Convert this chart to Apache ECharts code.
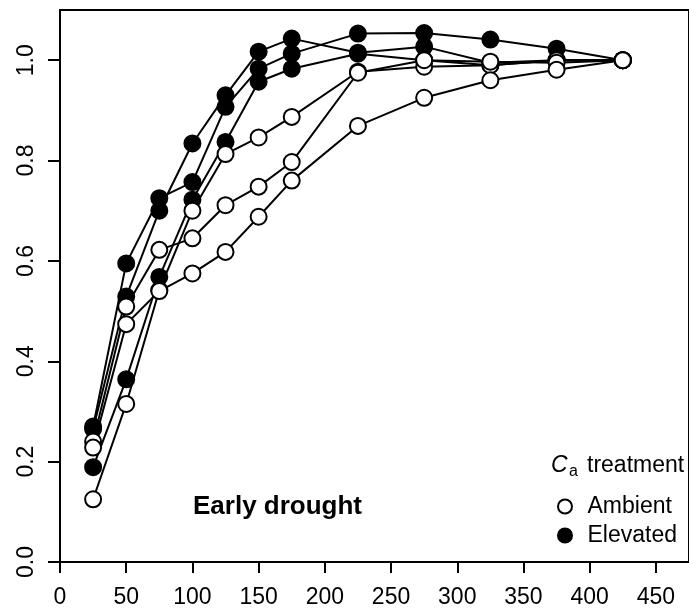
<!DOCTYPE html>
<html>
<head>
<meta charset="utf-8">
<script src="https://cdn.jsdelivr.net/npm/echarts@6/dist/echarts.min.js"></script>
<style>
  html, body { margin: 0; padding: 0; background: #fff; }
  #chart { width: 689px; height: 612px; }
</style>
</head>
<body>
<div id="chart"></div>
<script>
// sampling times
const xDays = [25, 50, 75, 100, 125, 150, 175, 225, 275, 325, 375, 425];

// ambient Ca (open circles)
const ambient1 = [0.125, 0.315, 0.542, 0.700, 0.813, 0.846, 0.887, 0.977, 0.987, 0.990, 1.000, 1.000];
const ambient2 = [0.240, 0.509, 0.622, 0.645, 0.711, 0.748, 0.797, 0.975, 1.000, 0.997, 0.995, 1.000];
const ambient3 = [0.228, 0.474, 0.540, 0.575, 0.618, 0.688, 0.760, 0.869, 0.925, 0.960, 0.981, 1.000];

// elevated Ca (filled circles)
const elevated1 = [0.270, 0.595, 0.725, 0.757, 0.907, 0.983, 1.013, 1.053, 1.054, 1.041, 1.023, 1.000];
const elevated2 = [0.265, 0.529, 0.700, 0.834, 0.930, 1.017, 1.043, 1.015, 1.027, 0.995, 1.000, 1.000];
const elevated3 = [0.189, 0.364, 0.568, 0.722, 0.837, 0.957, 0.983, 1.013, 1.000, 0.990, 1.000, 1.000];

const xTicks = [0, 50, 100, 150, 200, 250, 300, 350, 400, 450];
const yTicks = [0, 0.2, 0.4, 0.6, 0.8, 1.0];

const FONT = 'Liberation Sans, Arial, Helvetica, sans-serif';

function pairs(vals) {
  return xDays.map((x, i) => [x, vals[i]]);
}

function mkSeries(name, vals, filled) {
  return {
    name: name,
    type: 'line',
    data: pairs(vals),
    symbol: 'circle',
    symbolSize: 16,
    lineStyle: { color: '#000', width: 2 },
    itemStyle: {
      color: filled ? '#000' : '#fff',
      borderColor: '#000',
      borderWidth: 2
    },
    emphasis: { disabled: true },
    animation: false
  };
}

var myChart = echarts.init(document.getElementById('chart'));
var option = {
  backgroundColor: '#fff',
  animation: false,
  grid: {
    left: 60,
    top: 10,
    width: 633.33,
    height: 552,
    show: true,
    borderColor: '#000',
    borderWidth: 2,
    backgroundColor: 'transparent'
  },
  xAxis: {
    type: 'value',
    min: 0,
    max: 475,
    interval: 50,
    splitLine: { show: false },
    axisLine: { show: true, lineStyle: { color: '#000', width: 2 } },
    axisTick: { show: true, length: 11, lineStyle: { color: '#000', width: 2 }, customValues: xTicks },
    axisLabel: {
      color: '#000', fontSize: 23, fontFamily: FONT, margin: 24,
      customValues: xTicks
    }
  },
  yAxis: {
    type: 'value',
    min: 0,
    max: 1.1,
    interval: 0.2,
    splitLine: { show: false },
    axisLine: { show: true, lineStyle: { color: '#000', width: 2 } },
    axisTick: { show: true, length: 12, lineStyle: { color: '#000', width: 2 }, customValues: yTicks },
    axisLabel: {
      color: '#000', fontSize: 23, fontFamily: FONT, margin: 22, rotate: 90,
      customValues: yTicks,
      formatter: function (v) { return v.toFixed(1); }
    }
  },
  legend: {
    orient: 'vertical',
    left: 557,
    top: 495,
    padding: 0,
    itemWidth: 35,
    itemHeight: 14,
    itemGap: 6,
    selectedMode: false,
    textStyle: { color: '#000', fontSize: 23, lineHeight: 23, fontFamily: FONT },
    data: [
      { name: 'Ambient', icon: 'circle' },
      { name: 'Elevated', icon: 'circle' }
    ]
  },
  graphic: [
    {
      type: 'text', left: 193, top: 494, silent: true,
      style: { text: 'Early drought', fontSize: 26, fontWeight: 'bold', fontFamily: FONT, fill: '#000' }
    },
    {
      type: 'text', x: 551, y: 466, silent: true,
      style: { text: 'C', fontSize: 23, fontStyle: 'italic', fontFamily: FONT, fill: '#000', verticalAlign: 'middle' }
    },
    {
      type: 'text', x: 569, y: 472, silent: true,
      style: { text: 'a', fontSize: 16, fontFamily: FONT, fill: '#000', verticalAlign: 'middle' }
    },
    {
      type: 'text', x: 587, y: 466, silent: true,
      style: { text: 'treatment', fontSize: 23, fontFamily: FONT, fill: '#000', verticalAlign: 'middle' }
    }
  ],
  series: [
    mkSeries('Elevated', elevated1, true),
    mkSeries('Elevated', elevated2, true),
    mkSeries('Elevated', elevated3, true),
    mkSeries('Ambient', ambient1, false),
    mkSeries('Ambient', ambient2, false),
    mkSeries('Ambient', ambient3, false)
  ]
};
myChart.setOption(option);
window.addEventListener('resize', function () {
  myChart.resize();
});
</script>
</body>
</html>
